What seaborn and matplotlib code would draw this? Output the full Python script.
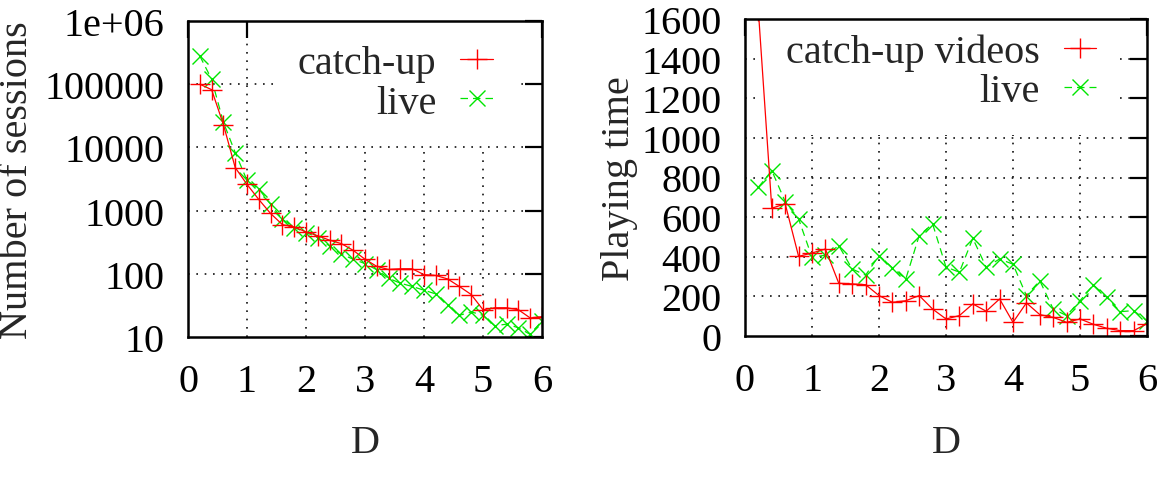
import matplotlib
matplotlib.use("Agg")
import matplotlib.pyplot as plt
from matplotlib.ticker import LogLocator, NullFormatter, NullLocator, FixedLocator
import seaborn as sns
import pandas as pd

# ---------------- data ----------------
D = [0.2, 0.4, 0.6, 0.8, 1.0, 1.2, 1.4, 1.6, 1.8, 2.0,
     2.2, 2.4, 2.6, 2.8, 3.0, 3.2, 3.4, 3.6, 3.8, 4.0,
     4.2, 4.4, 4.6, 4.8, 5.0, 5.2, 5.4, 5.6, 5.8, 6.0]

sessions_catchup = [100000, 82000, 23000, 4800, 2600, 1500, 900, 600, 550, 460,
                    400, 340, 300, 235, 170, 131, 117, 120, 120, 97,
                    94, 83, 63, 47, 27, 29, 29, 27, 20, 21]
sessions_live = [280000, 120000, 25000, 8300, 3000, 2200, 1260, 730, 540, 450,
                 375, 275, 205, 170, 145, 116, 85, 71, 63, 55,
                 48, 32, 22, 25, 22, 15, 16, 14, 11, 18]

playtime_catchup = [1640, 645, 667, 402, 419, 439, 266, 263, 259, 204,
                    170, 178, 204, 136, 86, 103, 162, 125, 187, 69,
                    167, 108, 94, 69, 86, 59, 39, 27, 27, 62]
playtime_live = [751, 835, 678, 591, 397, 408, 456, 338, 307, 406,
                 344, 288, 507, 566, 348, 322, 493, 347, 389, 362,
                 204, 279, 136, 103, 178, 258, 195, 123, 128, 77]

X_TICKS = [0, 1, 2, 3, 4, 5, 6]
SESS_TICKS = [10, 100, 1000, 10000, 100000, 1000000]
SESS_LABELS = ["10", "100", "1000", "10000", "100000", "1e+06"]
PLAY_TICKS = [0, 200, 400, 600, 800, 1000, 1200, 1400, 1600]

LEFT_LABELS = ["catch-up", "live"]
RIGHT_LABELS = ["catch-up videos", "live"]
X_LABEL = "D"
Y_LABEL_LEFT = "Number of sessions"
Y_LABEL_RIGHT = "Playing time"

# ---------------- style ----------------
sns.set_style("white")
plt.rcParams["font.family"] = ["Liberation Serif", "DejaVu Serif"]
FS = 29
RED = "#ff0000"
GREEN = "#00e600"

fig = plt.figure(figsize=(11.62, 4.81), dpi=100)
axL = fig.add_axes([188 / 1162, (481 - 338) / 481, 354 / 1162, 316 / 481])
axR = fig.add_axes([745 / 1162, (481 - 337) / 481, 402 / 1162, 317 / 481])


def draw(ax, y1, y2, labels):
    sns.lineplot(x=D, y=y1, ax=ax, color=RED, marker="+", markersize=14,
                 markeredgewidth=1.0, markeredgecolor=RED, linewidth=0.9,
                 label=labels[0], zorder=3)
    sns.lineplot(x=D, y=y2, ax=ax, color=GREEN, marker="x", markersize=11,
                 markeredgewidth=1.0, markeredgecolor=GREEN, linewidth=0.9,
                 linestyle=(0, (6, 4)), label=labels[1], zorder=2.8)


draw(axL, sessions_catchup, sessions_live, LEFT_LABELS)
draw(axR, playtime_catchup, playtime_live, RIGHT_LABELS)

# left axis (log)
axL.set_yscale("log")
axL.set_ylim(10, 1e6)
axL.yaxis.set_major_locator(FixedLocator(SESS_TICKS))
axL.set_yticklabels(SESS_LABELS)
axL.yaxis.set_minor_locator(LogLocator(base=10, subs=(2, 5, 8)))
axL.yaxis.set_minor_formatter(NullFormatter())

axR.set_ylim(0, 1600)
axR.set_yticks(PLAY_TICKS)
axR.set_yticklabels([str(t) for t in PLAY_TICKS])

for ax, yt in ((axL, SESS_TICKS), (axR, PLAY_TICKS)):
    ax.set_xlim(0, 6)
    ax.set_xticks(X_TICKS)
    ax.set_xticklabels([str(t) for t in X_TICKS])
    ax.xaxis.set_minor_locator(NullLocator())
    for x in X_TICKS[1:-1]:
        ax.axvline(x, color="#111111", lw=1.2, ls=(0, (1, 4)), zorder=0.5)
    for y in yt[1:-1]:
        ax.axhline(y, color="#111111", lw=1.2, ls=(0, (1, 4)), zorder=0.5)
    for s in ax.spines.values():
        s.set_linewidth(1.8)
        s.set_color("black")
        s.set_zorder(4)
    ax.tick_params(which="major", direction="in", length=12, width=1.6,
                   top=True, right=True, labelsize=FS, colors="black")
    ax.tick_params(which="minor", direction="in", length=6, width=1.6,
                   top=True, right=True)
    ax.tick_params(axis="x", pad=19)
    ax.tick_params(axis="y", pad=17)
    ax.set_xlabel(X_LABEL, fontsize=FS)

axL.set_ylabel(Y_LABEL_LEFT, fontsize=FS)
axR.set_ylabel(Y_LABEL_RIGHT, fontsize=FS)
axL.yaxis.set_label_coords(-0.43, 0.5)
axR.yaxis.set_label_coords(-0.266, 0.5)
axL.xaxis.set_label_coords(0.5, -0.275)
axR.xaxis.set_label_coords(0.5, -0.278)

for ax, anchor in ((axL, (0.929, 1.0)), (axR, (0.933, 1.03))):
    leg = ax.legend(loc="upper right", bbox_to_anchor=anchor, borderaxespad=0,
                    markerfirst=False, frameon=True, fancybox=False,
                    framealpha=1, facecolor="white", edgecolor="none",
                    handlelength=0.8, handletextpad=0.6, labelspacing=0.05,
                    borderpad=0.6, fontsize=FS, numpoints=1)
    leg.get_frame().set_linewidth(0)
    leg.set_zorder(1)

fig.savefig("out.png", dpi=100)
